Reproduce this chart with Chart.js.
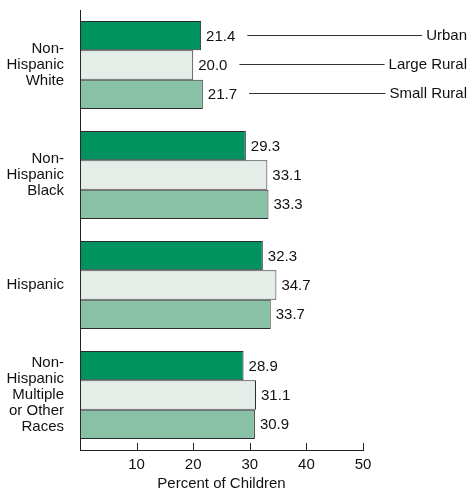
<!DOCTYPE html>
<html>
<head>
<meta charset="utf-8">
<script src="https://cdn.jsdelivr.net/npm/chart.js@4"></script>
<style>
  html, body { margin: 0; padding: 0; background: #fff; }
</style>
</head>
<body>
<canvas id="myChart" width="470" height="491"></canvas>
<script>
// datos
const categorias = [
  ["Non-", "Hispanic", "White"],
  ["Non-", "Hispanic", "Black"],
  "Hispanic",
  ["Non-", "Hispanic", "Multiple", "or Other", "Races"],
];
const series = ["Urban", "Large Rural", "Small Rural"];
const urbano = [21.4, 29.3, 32.3, 28.9];
const ruralGrande = [20.0, 33.1, 34.7, 31.1];
const ruralPequeno = [21.7, 33.3, 33.7, 30.9];
const ticksX = [10, 20, 30, 40, 50];

const fuente = "'Liberation Sans', Arial, sans-serif";
const colores = ["#00925f", "#e4ede8", "#88c1a5"];
const texto = "#111";

// valores al final de cada barra + leyenda con lineas en el primer grupo
const etiquetas = {
  id: "etiquetas",
  afterDatasetsDraw(chart) {
    const ctx = chart.ctx;
    ctx.save();
    ctx.font = `15px ${fuente}`;
    ctx.fillStyle = texto;
    ctx.strokeStyle = "#333";
    ctx.lineWidth = 1;
    ctx.textBaseline = "middle";
    chart.data.datasets.forEach((ds, i) => {
      const meta = chart.getDatasetMeta(i);
      meta.data.forEach((bar, j) => {
        const valor = ds.data[j].toFixed(1);
        ctx.textAlign = "left";
        ctx.fillText(valor, bar.x + 5, bar.y + 1);
        if (j === 0) {
          const fin = bar.x + 5 + ctx.measureText(valor).width;
          ctx.textAlign = "right";
          ctx.fillText(ds.label, 467, bar.y);
          const inicio = 467 - ctx.measureText(ds.label).width;
          const y = Math.round(bar.y) - 0.5;
          ctx.beginPath();
          ctx.moveTo(fin + 12, y);
          ctx.lineTo(inicio - 4, y);
          ctx.stroke();
        }
      });
    });
    // marcas del eje x hacia arriba
    const escalaX = chart.scales.x;
    const abajo = chart.chartArea.bottom;
    ctx.strokeStyle = "#222";
    ticksX.forEach((v) => {
      const px = Math.round(escalaX.getPixelForValue(v)) + 0.5;
      ctx.beginPath();
      ctx.moveTo(px, abajo);
      ctx.lineTo(px, abajo - 7);
      ctx.stroke();
    });
    ctx.restore();
  },
};

const ctx = document.getElementById("myChart");
const myChart = new Chart(ctx, {
  type: "bar",
  data: {
    labels: categorias,
    datasets: [
      { label: series[0], data: urbano, backgroundColor: colores[0] },
      { label: series[1], data: ruralGrande, backgroundColor: colores[1] },
      { label: series[2], data: ruralPequeno, backgroundColor: colores[2] },
    ].map((ds) => ({
      ...ds,
      borderColor: "#2b2b2b",
      borderWidth: 1,
      borderSkipped: false,
      categoryPercentage: 0.8,
      barPercentage: 1.0,
    })),
  },
  options: {
    indexAxis: "y",
    responsive: false,
    animation: false,
    devicePixelRatio: 1,
    layout: { padding: { top: 10, right: 107, left: 0, bottom: 0 } },
    scales: {
      x: {
        min: 0,
        max: 50,
        grid: { display: false, tickLength: 0 },
        border: { color: "#222", width: 1 },
        ticks: {
          stepSize: 10,
          padding: 6,
          color: texto,
          font: { family: fuente, size: 15 },
          callback: (v) => (v === 0 ? "" : v),
        },
        title: {
          display: true,
          text: "Percent of Children",
          color: texto,
          font: { family: fuente, size: 15 },
          padding: { top: 0, bottom: -2 },
        },
        afterFit: (scale) => {
          scale.height = 41;
          scale.paddingLeft = 0;
          scale.paddingRight = 0;
        },
      },
      y: {
        grid: { display: false },
        border: { color: "#222", width: 1 },
        ticks: {
          padding: 8,
          color: texto,
          font: { family: fuente, size: 15, lineHeight: 1.07 },
        },
        afterFit: (scale) => {
          scale.width = 80;
          scale.paddingTop = 0;
          scale.paddingBottom = 0;
        },
      },
    },
    plugins: {
      legend: { display: false },
      tooltip: { enabled: false },
    },
  },
  plugins: [etiquetas],
});
</script>
</body>
</html>
